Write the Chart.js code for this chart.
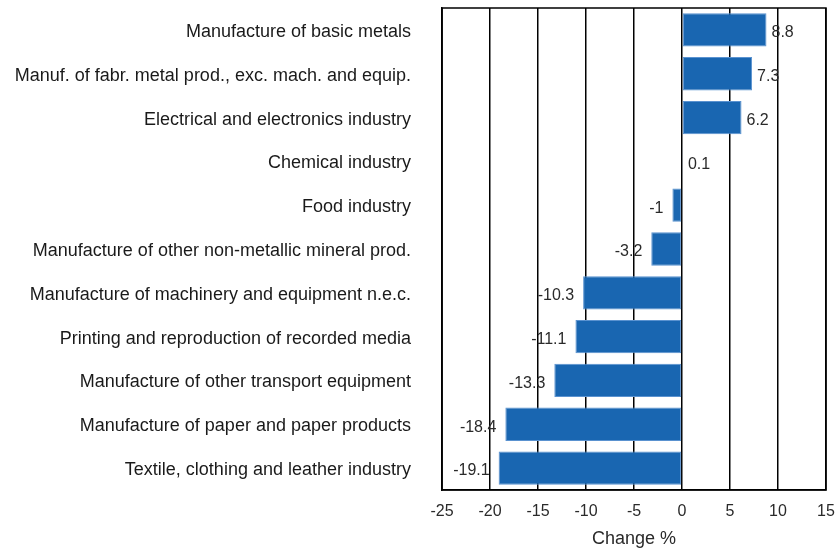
<!DOCTYPE html>
<html>
<head>
<meta charset="utf-8">
<script src="https://cdn.jsdelivr.net/npm/chart.js@4"></script>
<style>
  html, body { margin: 0; padding: 0; background: #fff; }
  #wrap { width: 835px; height: 550px; }
</style>
</head>
<body>
<div id="wrap"><canvas id="grafico" width="835" height="550"></canvas></div>
<script>
const categorias = [
  "Manufacture of basic metals",
  "Manuf. of fabr. metal prod., exc. mach. and equip.",
  "Electrical and electronics industry",
  "Chemical industry",
  "Food industry",
  "Manufacture of other non-metallic mineral prod.",
  "Manufacture of machinery and equipment n.e.c.",
  "Printing and reproduction of recorded media",
  "Manufacture of other transport equipment",
  "Manufacture of paper and paper products",
  "Textile, clothing and leather industry"
];
const valores = [8.8, 7.3, 6.2, 0.1, -1, -3.2, -10.3, -11.1, -13.3, -18.4, -19.1];
const eixoX = { min: -25, max: 15, passo: 5 };
const tituloX = "Change %";

const fonte = "'Liberation Sans', Arial, sans-serif";

// moldura preta em volta da area do grafico
const moldura = {
  id: "moldura",
  afterDraw(chart) {
    const { ctx, chartArea: a } = chart;
    ctx.save();
    ctx.strokeStyle = "#000";
    ctx.lineWidth = 1.5;
    ctx.strokeRect(a.left, a.top, a.right - a.left, a.bottom - a.top);
    ctx.restore();
  }
};

// rotulos de valor na ponta de cada barra
const rotulos = {
  id: "rotulos",
  afterDatasetsDraw(chart) {
    const ctx = chart.ctx;
    const meta = chart.getDatasetMeta(0);
    ctx.save();
    ctx.font = "16px " + fonte;
    ctx.fillStyle = "#2a2a2a";
    ctx.textBaseline = "middle";
    meta.data.forEach((bar, i) => {
      const v = valores[i];
      if (v >= 0) {
        ctx.textAlign = "left";
        ctx.fillText(String(v), bar.x + 5, bar.y + 3);
      } else {
        ctx.textAlign = "right";
        ctx.fillText(String(v), bar.x - 9, bar.y + 3);
      }
    });
    ctx.restore();
  }
};

new Chart(document.getElementById("grafico"), {
  type: "bar",
  data: {
    labels: categorias,
    datasets: [{
      data: valores,
      backgroundColor: "#1966b1",
      borderColor: "#5a92d0",
      borderWidth: 1,
      borderSkipped: false,
      barPercentage: 0.76,
      categoryPercentage: 1
    }]
  },
  options: {
    indexAxis: "y",
    responsive: false,
    animation: false,
    layout: { autoPadding: false, padding: { top: 8, right: 9, left: 0, bottom: 0 } },
    plugins: {
      legend: { display: false },
      tooltip: { enabled: false }
    },
    scales: {
      x: {
        min: eixoX.min,
        max: eixoX.max,
        ticks: {
          stepSize: eixoX.passo,
          color: "#2a2a2a",
          padding: 12,
          font: { family: fonte, size: 16 }
        },
        grid: { color: "#000", lineWidth: 1.5, drawTicks: false },
        border: { color: "#000", width: 1.5 },
        title: {
          display: true,
          text: tituloX,
          color: "#2a2a2a",
          font: { family: fonte, size: 18 },
          padding: { top: 2, bottom: 0 }
        },
        afterFit(scale) {
          scale.height = 60;
          scale.paddingLeft = 0;
          scale.paddingRight = 0;
        }
      },
      y: {
        ticks: {
          color: "#1a1a1a",
          padding: 31,
          labelOffset: 2,
          autoSkip: false,
          font: { family: fonte, size: 18 }
        },
        grid: { display: false, drawTicks: false },
        border: { color: "#000", width: 1.5 },
        afterFit(scale) {
          scale.width = 442;
          scale.paddingTop = 0;
          scale.paddingBottom = 0;
        }
      }
    }
  },
  plugins: [moldura, rotulos]
});
</script>
</body>
</html>
